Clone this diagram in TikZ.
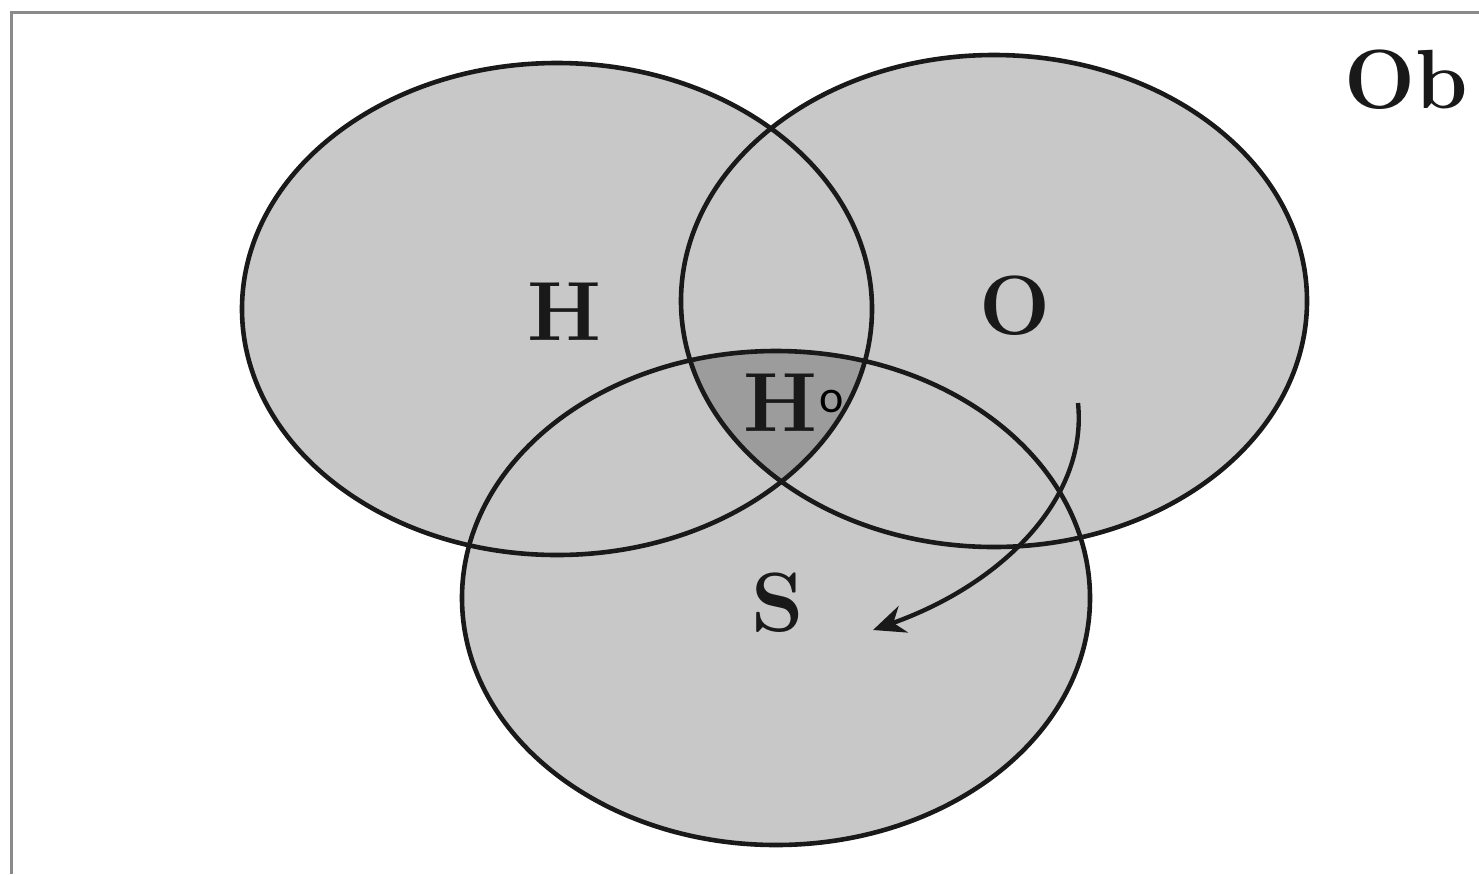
\documentclass[tikz,border=0pt]{standalone}
\usepackage{fontspec}
\newfontfamily\smallsans{Carlito}
\usetikzlibrary{arrows.meta}
\definecolor{lightfill}{HTML}{C8C8C8}
\definecolor{darkfill}{HTML}{9C9C9C}
\definecolor{framegray}{HTML}{8A8A8A}
\tikzset{
  setline/.style={draw=black!90, line width=2.3pt},
  biglabel/.style={font=\fontsize{42}{44}\selectfont\bfseries, text=black!90, inner sep=0pt},
  framestyle/.style={draw=framegray, line width=1.5pt},
  arrowstyle/.style={draw=black!90, line width=2.2pt, -{Stealth[length=16pt,width=14pt]}}
}
\begin{document}
\begin{tikzpicture}[x=0.5pt,y=-0.5pt]
\useasboundingbox (0,0) rectangle (1479,874);
\clip (0,0) rectangle (1479,874);
% frame (only top and left edges visible)
\draw[framestyle] (11,874) -- (11,12) -- (1479,12);
% fills
\fill[lightfill] (557,309) ellipse [x radius=315, y radius=246];
\fill[lightfill] (994,301) ellipse [x radius=313, y radius=246];
\fill[lightfill] (776,598) ellipse [x radius=314, y radius=247];
\begin{scope}
  \clip (557,309) ellipse [x radius=315, y radius=246];
  \clip (994,301) ellipse [x radius=313, y radius=246];
  \fill[darkfill] (776,598) ellipse [x radius=314, y radius=247];
\end{scope}
% outlines
\draw[setline] (557,309) ellipse [x radius=315, y radius=246];
\draw[setline] (994,301) ellipse [x radius=313, y radius=246];
\draw[setline] (776,598) ellipse [x radius=314, y radius=247];
% labels
\node[biglabel] (lH) at (564,312) {H};
\node[biglabel] (lO) at (1015,306) {O};
\node[biglabel] (lS) at (778,603) {S};
\node[biglabel] (lHo) at (780,403) {H};
\node[font=\fontsize{23}{25}\smallsans, inner sep=0pt] (lo) at (832,401) {o};
\node[biglabel, anchor=west] (lOb) at (1344,80) {Ob};
% arrow
\coordinate (a1) at (1078,403);
\coordinate (a2) at (873,630);
\draw[arrowstyle] (a1) .. controls (1088,500) and (1000,585) .. (a2);
\end{tikzpicture}
\end{document}
